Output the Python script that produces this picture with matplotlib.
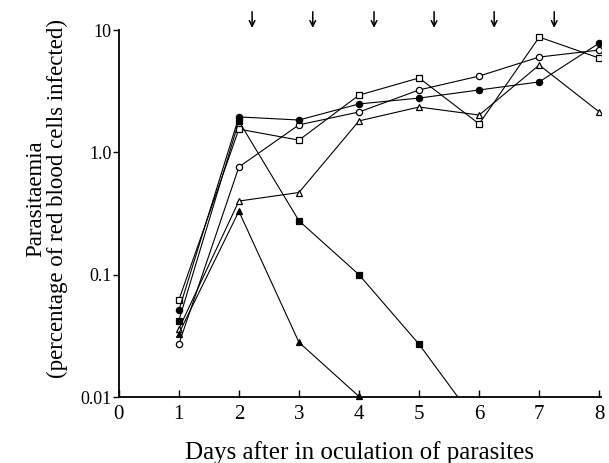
import matplotlib
matplotlib.use('Agg')
import matplotlib.pyplot as plt
from matplotlib.ticker import FixedLocator, NullLocator

plt.rcParams['font.family'] = ['Liberation Serif', 'DejaVu Serif']

# days after inoculation
days = [1, 2, 3, 4, 5, 6, 7, 8]
days_fsq = [1, 2, 3, 4, 5, 6]
days_ftri = [1, 2, 3, 4]

# parasitaemia (% red blood cells infected)
open_square = [0.062, 1.55, 1.26, 2.94, 4.06, 1.71, 8.77, 5.90]
open_circle = [0.027, 0.76, 1.68, 2.14, 3.24, 4.21, 6.02, 6.87]
filled_circle = [0.051, 1.95, 1.84, 2.49, 2.78, 3.24, 3.77, 7.83]
open_triangle = [0.036, 0.40, 0.47, 1.81, 2.35, 2.02, 5.18, 2.14]
filled_square = [0.042, 1.80, 0.276, 0.10, 0.027, 0.0058]
filled_triangle = [0.033, 0.33, 0.028, 0.0101]

# treatment times
arrow_days = [2.22, 3.23, 4.25, 5.25, 6.25, 7.25]

fig = plt.figure(figsize=(6.09, 4.63), dpi=100)
ax = fig.add_axes([0.195, 0.1425, 0.792, 0.7925])

kw = dict(color='black', linewidth=0.8, markersize=4.5, markeredgewidth=0.9)
ax.plot(days, open_square, marker='s', markerfacecolor='white', **kw)
ax.plot(days, open_circle, marker='o', markerfacecolor='white', **kw)
ax.plot(days, filled_circle, marker='o', markerfacecolor='black', **kw)
ax.plot(days, open_triangle, marker='^', markerfacecolor='white', **kw)
ax.plot(days_fsq, filled_square, marker='s', markerfacecolor='black', **kw)
ax.plot(days_ftri, filled_triangle, marker='^', markerfacecolor='black',
        clip_on=False, **kw)

ax.set_yscale('log')
ax.set_ylim(0.01, 10)
ax.set_xlim(0, 8.03)

ax.yaxis.set_major_locator(FixedLocator([0.01, 0.1, 1.0, 10]))
ax.yaxis.set_minor_locator(NullLocator())
ax.set_yticklabels(['0.01', '0.1', '1.0', '10'], fontsize=13)
ax.set_xticks(range(9))
ax.set_xticklabels([str(d) for d in range(9)], fontsize=15)

ax.tick_params(axis='y', direction='out', length=4, width=1, pad=1)
ax.tick_params(axis='x', direction='in', length=5, width=1, pad=6)

for side in ['top', 'right']:
    ax.spines[side].set_visible(False)
for side in ['left', 'bottom']:
    ax.spines[side].set_linewidth(1.3)

# arrows above the plot
for d in arrow_days:
    ax.annotate('', xy=(d, 1.006), xytext=(d, 1.05),
                xycoords=('data', 'axes fraction'),
                textcoords=('data', 'axes fraction'),
                arrowprops=dict(arrowstyle='->', color='black', lw=1.1,
                                shrinkA=0, shrinkB=0))

ax.set_xlabel('Days after in oculation of parasites', fontsize=18, labelpad=12)
ax.set_ylabel('Parasitaemia\n(percentage of red blood cells infected)',
              fontsize=16.5, linespacing=1.0)
ax.yaxis.set_label_coords(-0.106, 0.54)

fig.savefig('out.png', dpi=100)
